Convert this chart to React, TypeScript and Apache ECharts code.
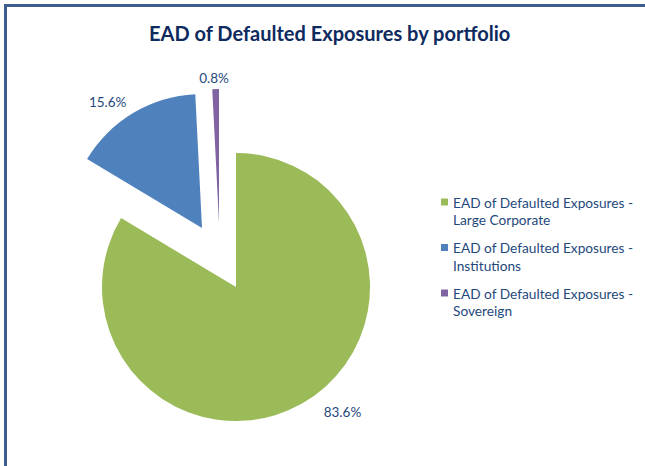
import React, { useEffect, useRef } from "react";
import * as echarts from "echarts";

const titleText = "EAD of Defaulted Exposures by portfolio";
const categories = [
  "EAD of Defaulted Exposures - Large Corporate",
  "EAD of Defaulted Exposures - Institutions",
  "EAD of Defaulted Exposures - Sovereign",
];
const values = [83.6, 15.6, 0.8];
const colors = ["#9BBB59", "#4F81BD", "#8064A2"];

// per-slice explosion (pie centres) and label placement
const centers: [number, number][] = [
  [236, 287],
  [202, 228],
  [219, 223],
];
const labelLens = [
  { length: 9.5, length2: 12, dist: 5 },
  { length: 12.9, length2: 0, dist: 0 },
  { length: 10.7, length2: -13.5, dist: 0 },
];

const FONT = "Lato";
const TEXT_COLOR = "#1F497D";

export default function App() {
  const ref = useRef<HTMLDivElement>(null);
  useEffect(() => {
    if (!ref.current) return;
    const chart = echarts.init(ref.current, undefined, { renderer: "svg" });
    const series = centers.map((c, k) => ({
      type: "pie",
      center: c,
      radius: 134,
      startAngle: 90,
      clockwise: true,
      avoidLabelOverlap: false,
      silent: true,
      emphasis: { disabled: true },
      label: {
        position: "outside",
        fontFamily: FONT,
        fontSize: 13.5,
        color: TEXT_COLOR,
        distanceToLabelLine: labelLens[k].dist,
        formatter: (p: any) => Number(p.value).toFixed(1) + "%",
      },
      labelLine: { show: false, length: labelLens[k].length, length2: labelLens[k].length2 },
      data: categories.map((name, i) => ({
        name,
        value: values[i],
        itemStyle: { color: i === k ? colors[i] : "rgba(0,0,0,0)" },
        label: { show: i === k },
      })),
    }));
    chart.setOption({
      animation: false,
      title: {
        text: titleText,
        left: 149,
        top: 22.5,
        padding: 0,
        textStyle: { fontFamily: FONT, fontSize: 20, fontWeight: "bold", color: "#0E2A5E" },
      },
      legend: {
        orient: "vertical",
        left: 441,
        top: 175.75,
        padding: 0,
        itemWidth: 7,
        itemHeight: 7,
        itemGap: -7,
        icon: "rect",
        selectedMode: false,
        data: categories.map((name, i) => ({ name, itemStyle: { color: colors[i] } })),
        formatter: (name: string) => "\n" + name.replace(" - ", " -\n"),
        textStyle: {
          fontFamily: FONT,
          fontSize: 13.7,
          lineHeight: 17.5,
          color: TEXT_COLOR,
        },
      },
      graphic: [
        {
          type: "rect",
          shape: { x: 5.5, y: 5.5, width: 700, height: 500 },
          style: { fill: "none", stroke: "#3B5E8C", lineWidth: 3 },
          silent: true,
        },
      ],
      series,
    });
    return () => chart.dispose();
  }, []);
  return (
    <div
      ref={ref}
      style={{ position: "fixed", left: 0, top: 0, width: 645, height: 466, background: "#fff" }}
    />
  );
}
